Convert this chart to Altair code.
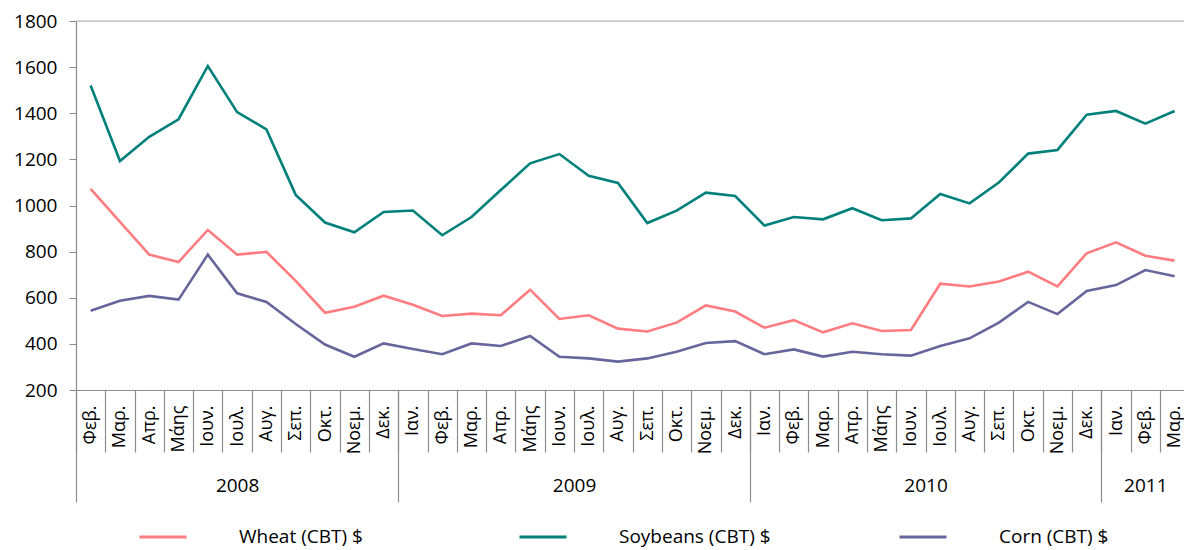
import altair as alt
import pandas as pd

months = ['Φεβ.', 'Μαρ.', 'Απρ.', 'Μάης', 'Ιουν.', 'Ιουλ.', 'Αυγ.', 'Σεπ.', 'Οκτ.', 'Νοεμ.', 'Δεκ.',
          'Ιαν.', 'Φεβ.', 'Μαρ.', 'Απρ.', 'Μάης', 'Ιουν.', 'Ιουλ.', 'Αυγ.', 'Σεπ.', 'Οκτ.', 'Νοεμ.', 'Δεκ.',
          'Ιαν.', 'Φεβ.', 'Μαρ.', 'Απρ.', 'Μάης', 'Ιουν.', 'Ιουλ.', 'Αυγ.', 'Σεπ.', 'Οκτ.', 'Νοεμ.', 'Δεκ.',
          'Ιαν.', 'Φεβ.', 'Μαρ.']
years = ['2008'] * 11 + ['2009'] * 12 + ['2010'] * 12 + ['2011'] * 3

wheat = [1072, 929, 787, 755, 894, 787, 799, 673, 535, 561, 609,
         570, 521, 531, 524, 635, 508, 524, 466, 454, 492, 567, 540,
         470, 503, 450, 489, 456, 460, 661, 649, 670, 713, 649, 793,
         840, 782, 761]
soybeans = [1520, 1193, 1298, 1374, 1605, 1405, 1330, 1046, 926, 884, 972,
            978, 871, 950, 1067, 1183, 1223, 1129, 1098, 924, 978, 1056, 1041,
            913, 950, 940, 988, 936, 944, 1050, 1009, 1100, 1225, 1241, 1394,
            1410, 1355, 1410]
corn = [544, 587, 608, 592, 787, 619, 582, 486, 397, 344, 402,
        378, 355, 402, 391, 434, 344, 337, 323, 337, 366, 404, 412,
        355, 376, 345, 366, 355, 349, 391, 424, 492, 582, 529, 629,
        655, 720, 693]

series_names = ['Wheat (CBT) $', 'Soybeans (CBT) $', 'Corn (CBT) $']
series_colors = ['#ff7c80', '#00807a', '#66669c']
y_ticks = [200, 400, 600, 800, 1000, 1200, 1400, 1600, 1800]

n = len(months)
rows = []
for name, vals in zip(series_names, [wheat, soybeans, corn]):
    for i, v in enumerate(vals):
        rows.append({'idx': i, 'month': months[i], 'year': years[i], 'series': name, 'value': v})
df = pd.DataFrame(rows)

# month boundaries and year groups derived from the category lists
month_bounds = [i - 0.5 for i in range(n)]
year_list = []
for y in years:
    if y not in year_list:
        year_list.append(y)
year_bounds = []
year_centers = []
for y in year_list:
    ids = [i for i, yy in enumerate(years) if yy == y]
    year_bounds.append(ids[0] - 0.5)
    year_centers.append((ids[0] + ids[-1]) / 2)

month_expr = "[" + ",".join("'" + m + "'" for m in months) + "][datum.value]"
year_expr = ("[" + ",".join("'" + y + "'" for y in year_list) + "][indexof(["
             + ",".join(str(c) for c in year_centers) + "], datum.value)]")

FONT = 'Open Sans'
AXIS_COLOR = '#8c8c8c'
xscale = alt.Scale(domain=[-0.5, 37.32], nice=False, zero=False)

lines = alt.Chart(df).mark_line(strokeWidth=2.6).encode(
    x=alt.X('idx:Q', scale=xscale, title=None,
            axis=alt.Axis(orient='bottom', values=list(range(n)), labelExpr=month_expr,
                          ticks=False, tickSize=0, domain=True, domainColor=AXIS_COLOR,
                          domainWidth=1.2, grid=False, labelAngle=-90, labelAlign='right',
                          labelBaseline='middle', labelPadding=15, labelFont=FONT,
                          labelFontSize=18, labelColor='#000000', labelOverlap=False,
                          labelFlush=False)),
    y=alt.Y('value:Q', scale=alt.Scale(domain=[200, 1800], nice=False, zero=False), title=None,
            axis=alt.Axis(values=y_ticks, format='d', grid=False, tickSize=7,
                          tickColor=AXIS_COLOR, domainColor=AXIS_COLOR, domainWidth=1.2,
                          labelPadding=12, labelFont=FONT, labelFontSize=19,
                          labelColor='#000000', labelFlush=False, labelOverlap=False)),
    color=alt.Color('series:N',
                    scale=alt.Scale(domain=series_names, range=series_colors),
                    sort=series_names,
                    legend=alt.Legend(orient='none', legendX=62, legendY=491,
                                      direction='horizontal', title=None,
                                      symbolType='stroke', symbolSize=2209,
                                      symbolStrokeWidth=3, labelFont=FONT,
                                      labelFontSize=19, labelColor='#000000',
                                      labelOffset=51, columnPadding=122,
                                      gridAlign='all', labelLimit=400)),
)

top_df = pd.DataFrame({'v': [1800]})
top_rule = alt.Chart(top_df).mark_rule(color='#b3b3b3', strokeWidth=1.2).encode(
    y=alt.Y('v:Q')
)

sep_df = pd.DataFrame({'b': month_bounds})
month_sep = alt.Chart(sep_df).mark_point(opacity=0, size=1).encode(
    x=alt.X('b:Q', scale=xscale, title=None,
            axis=alt.Axis(orient='bottom', values=month_bounds, labels=False, ticks=True,
                          tickSize=62, tickColor=AXIS_COLOR, tickWidth=1.2,
                          domain=False, grid=False))
)

ysep_df = pd.DataFrame({'b': year_bounds})
year_sep = alt.Chart(ysep_df).mark_point(opacity=0, size=1).encode(
    x=alt.X('b:Q', scale=xscale, title=None,
            axis=alt.Axis(orient='bottom', values=year_bounds, labels=False, ticks=True,
                          tickSize=112, tickColor=AXIS_COLOR, tickWidth=1.2,
                          domain=False, grid=False))
)

ylab_df = pd.DataFrame({'c': year_centers})
year_lab = alt.Chart(ylab_df).mark_point(opacity=0, size=1).encode(
    x=alt.X('c:Q', scale=xscale, title=None,
            axis=alt.Axis(orient='bottom', values=year_centers, labelExpr=year_expr,
                          ticks=False, tickSize=0, domain=False, grid=False,
                          labelPadding=86, labelBaseline='top', labelAlign='center',
                          labelFont=FONT, labelFontSize=19, labelColor='#000000',
                          labelOverlap=False, labelFlush=False))
)

chart = alt.layer(lines, top_rule, month_sep, year_sep, year_lab).resolve_axis(
    x='independent'
).properties(
    width=1108, height=369,
    padding={'left': 68, 'top': 13, 'right': 0, 'bottom': 160},
    autosize=alt.AutoSizeParams(type='none'),
).configure_view(stroke=None).configure(background='white')

chart.save('out.html', embed_options={'renderer': 'svg', 'actions': False})
